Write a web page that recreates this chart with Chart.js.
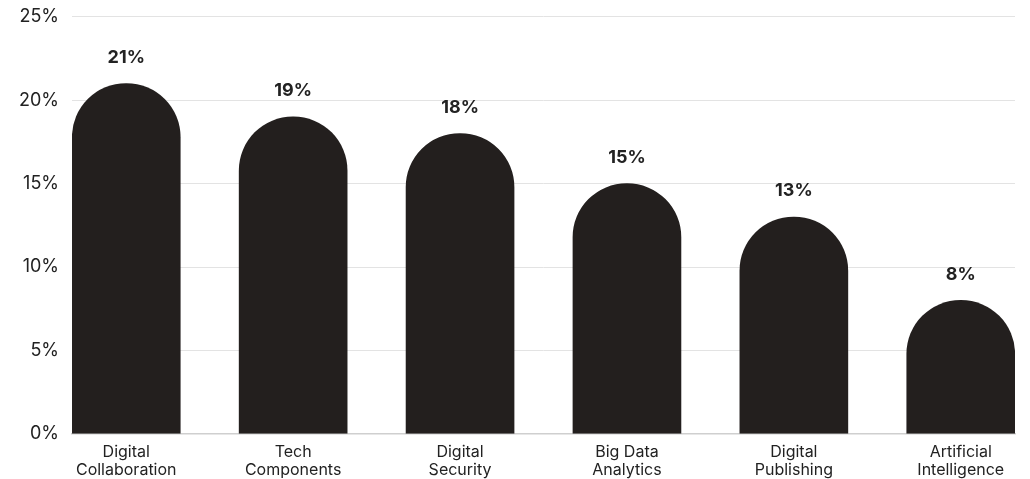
<!DOCTYPE html>
<html>
<head>
<meta charset="utf-8">
<script src="https://cdn.jsdelivr.net/npm/chart.js@4/dist/chart.umd.min.js"></script>
<style>
  html, body { margin: 0; padding: 0; background: #fff; }
  #wrap { width: 1030px; height: 479px; }
</style>
</head>
<body>
<div id="wrap"><canvas id="myChart"></canvas></div>
<script>
const categories = [
  ['Digital', 'Collaboration'],
  ['Tech', 'Components'],
  ['Digital', 'Security'],
  ['Big Data', 'Analytics'],
  ['Digital', 'Publishing'],
  ['Artificial', 'Intelligence']
];
const shares = [21, 19, 18, 15, 13, 8];
const yTicks = [0, 5, 10, 15, 20, 25];

const barColor = '#231f1e';
const textColor = '#222222';
const fontFamily = 'Inter, "Noto Sans", sans-serif';

// value labels above each bar, positioned from the bar element itself
const valueLabels = {
  id: 'valueLabels',
  afterDatasetsDraw(chart) {
    const ctx = chart.ctx;
    const meta = chart.getDatasetMeta(0);
    ctx.save();
    ctx.font = `bold 18px ${fontFamily}`;
    ctx.fillStyle = textColor;
    ctx.textAlign = 'center';
    ctx.textBaseline = 'middle';
    meta.data.forEach((bar, i) => {
      ctx.fillText(shares[i] + '%', bar.x, bar.y - 26);
    });
    ctx.restore();
  }
};

const chartElement = document.getElementById('myChart').getContext('2d');

new Chart(chartElement, {
  type: 'bar',
  data: {
    datasets: [{
      data: shares.map((v, i) => ({ x: i, y: v })),
      backgroundColor: barColor,
      borderSkipped: 'bottom',
      borderRadius: { topLeft: 54, topRight: 54, bottomLeft: 0, bottomRight: 0 },
      barThickness: 108
    }]
  },
  options: {
    responsive: true,
    maintainAspectRatio: false,
    animation: false,
    layout: { padding: { top: 0, right: 15, left: 13, bottom: -10 } },
    plugins: {
      legend: { display: false },
      tooltip: { enabled: false }
    },
    scales: {
      x: {
        type: 'linear',
        offset: false,
        min: -0.325,
        max: 5.325,
        afterBuildTicks: axis => {
          axis.ticks = categories.map((_, i) => ({ value: i }));
        },
        grid: { display: false, drawTicks: false, offset: false },
        border: { display: true, color: '#cfcfcf', width: 1.5 },
        ticks: {
          padding: 10,
          color: textColor,
          font: { family: fontFamily, size: 16, lineHeight: 1.1 },
          maxRotation: 0,
          autoSkip: false,
          callback: v => categories[v]
        }
      },
      y: {
        min: 0,
        max: 25,
        afterBuildTicks: axis => {
          axis.ticks = yTicks.map(v => ({ value: v }));
        },
        // invisible tick marks keep the labels away from the plot
        grid: { color: '#e3e3e3', lineWidth: 1, drawTicks: true, tickLength: 7, tickColor: 'rgba(0,0,0,0)' },
        border: { display: false },
        ticks: {
          padding: 6,
          color: textColor,
          font: { family: fontFamily, size: 18 },
          callback: v => v + '%'
        }
      }
    }
  },
  plugins: [valueLabels]
});
</script>
</body>
</html>
